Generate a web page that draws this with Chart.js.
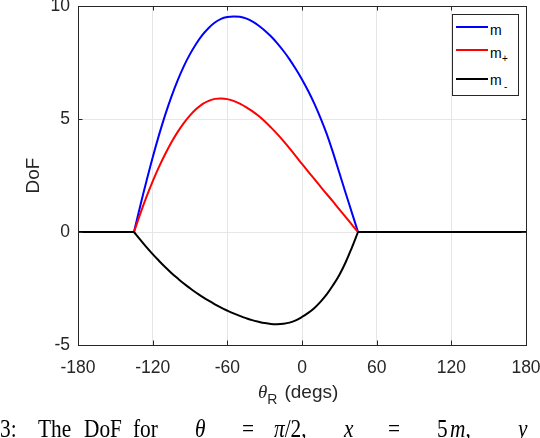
<!DOCTYPE html>
<html>
<head>
<meta charset="utf-8">
<script src="https://cdn.jsdelivr.net/npm/chart.js@4"></script>
<style>
  html, body { margin: 0; padding: 0; background: #fff; }
  #wrap { position: relative; width: 540px; height: 438px; overflow: hidden; }
  #chart { position: absolute; left: 0; top: 0; }
  #legend {
    position: absolute; left: 452px; top: 14px; width: 67px; height: 82px;
    box-sizing: border-box; border: 1px solid #262626; background: #fff;
    font-family: "Liberation Sans", Arial, sans-serif; color: #000;
  }
  #legend .ln { position: absolute; left: 3px; width: 32px; height: 2px; }
  #legend .m { position: absolute; left: 37px; font-size: 14px; line-height: 14px; color: #000; }
  #legend .s { position: absolute; font-size: 10px; line-height: 10px; color: #000; }
  #xtitle {
    position: absolute; top: 382px; left: 258px; white-space: nowrap;
    font-family: "Liberation Sans", Arial, sans-serif; font-size: 19px; line-height: 19px; color: #262626;
  }
  #xtitle i { font-family: "Liberation Serif", serif; }
  #xtitle sub { font-size: 14px; vertical-align: -6px; margin-right: 7px; }
  #caption {
    position: absolute; top: 416px; left: 0; width: 540px; height: 30px;
    font-family: "Liberation Serif", "Times New Roman", serif; font-size: 26px; line-height: 26px; color: #000;
  }
  #caption span { position: absolute; top: 0; white-space: nowrap; transform: scaleX(0.82); transform-origin: 0 0; }
</style>
</head>
<body>
<div id="wrap">
  <canvas id="chart" width="540" height="438"></canvas>
  <div id="legend">
    <div class="ln" style="top:10.7px;background:#0000ff"></div>
    <div class="m" style="top:7.5px">m</div>
    <div class="ln" style="top:34px;background:#ff0000"></div>
    <div class="m" style="top:31px">m</div>
    <div class="s" style="left:49px;top:38.5px">+</div>
    <div class="ln" style="top:62.7px;background:#000000"></div>
    <div class="m" style="top:58px">m</div>
    <div class="s" style="left:51px;top:66.5px">-</div>
  </div>
  <div id="xtitle"><i>θ</i><sub>R</sub>(degs)</div>
  <div id="caption">
    <span style="left:0px">3:</span>
    <span style="left:38px">The</span>
    <span style="left:84px">DoF</span>
    <span style="left:133px">for</span>
    <span style="left:195px"><i>θ</i></span>
    <span style="left:242px">=</span>
    <span style="left:274px"><i>π</i>/2,</span>
    <span style="left:344px"><i>x</i></span>
    <span style="left:388px">=</span>
    <span style="left:437px">5</span>
    <span style="left:450px"><i>m</i>,</span>
    <span style="left:518px"><i>y</i></span>
  </div>
</div>
<script>
// angle theta_R in degrees, over the range where the DoF curves are non-zero
const thetaDeg = [-135, -130, -125, -120, -115, -110, -105, -100, -95, -90, -85, -80,
  -75, -70, -65, -60, -55, -50, -45, -40, -35, -30, -25, -20, -15, -10, -5, 0,
  5, 10, 15, 20, 25, 30, 35, 40, 45];

const mTotal = [0, 1.15, 2.25, 3.3, 4.275, 5.17, 5.98, 6.7, 7.33, 7.87, 8.33, 8.72,
  9.03, 9.27, 9.43, 9.51, 9.54, 9.52, 9.45, 9.32, 9.14, 8.92, 8.66, 8.36, 8.02, 7.64, 7.21, 6.75,
  6.24, 5.67, 5.03, 4.32, 3.5, 2.62, 1.74, 0.87, 0];

const mPlus = [0, 0.8, 1.55, 2.24, 2.87, 3.44, 3.96, 4.42, 4.82, 5.16, 5.44, 5.66,
  5.8, 5.89, 5.91, 5.88, 5.8, 5.68, 5.53, 5.35, 5.14, 4.9, 4.63, 4.34, 4.03, 3.7, 3.36, 3.01,
  2.67, 2.34, 2.0, 1.67, 1.34, 1.0, 0.67, 0.33, 0];

const mMinus = [0, -0.34, -0.67, -0.98, -1.27, -1.55, -1.81, -2.05, -2.28, -2.49, -2.69, -2.87,
  -3.04, -3.2, -3.35, -3.48, -3.6, -3.71, -3.81, -3.9, -3.97, -4.03, -4.07, -4.08, -4.06, -4.01, -3.91, -3.76,
  -3.58, -3.36, -3.08, -2.75, -2.35, -1.9, -1.35, -0.7, 0];

// outside (-135, 45) all three curves sit at zero
const zeroTheta = [-180, -135, null, 45, 180];
const zeroVal = [0, 0, null, 0, 0];

const xTicks = [-180, -120, -60, 0, 60, 120, 180];
const yTicks = [-5, 0, 5, 10];

const axisColor = '#262626';
const gridColor = '#e6e6e6';

function pts(xs, ys) {
    return xs.map((x, i) => ({x: x, y: ys[i]}));
}

// MATLAB style box with inward ticks
const boxPlugin = {
    id: 'box',
    afterDatasetsDraw(chart) {
        const {ctx, chartArea: a, scales} = chart;
        ctx.save();
        ctx.strokeStyle = axisColor;
        ctx.lineWidth = 1;
        ctx.beginPath();
        xTicks.forEach(v => {
            const px = Math.round(scales.x.getPixelForValue(v)) + 0.5;
            ctx.moveTo(px, a.bottom); ctx.lineTo(px, a.bottom - 4.5);
            ctx.moveTo(px, a.top); ctx.lineTo(px, a.top + 4.5);
        });
        yTicks.forEach(v => {
            const py = Math.round(scales.y.getPixelForValue(v)) + 0.5;
            ctx.moveTo(a.left, py); ctx.lineTo(a.left + 4.5, py);
            ctx.moveTo(a.right, py); ctx.lineTo(a.right - 4.5, py);
        });
        ctx.stroke();
        ctx.strokeRect(Math.round(a.left) + 0.5, Math.round(a.top) + 0.5,
            Math.round(a.right - a.left), Math.round(a.bottom - a.top));
        ctx.restore();
    }
};

function noPad(s) {
    s.paddingLeft = 0; s.paddingRight = 0; s.paddingTop = 0; s.paddingBottom = 0;
}

const chart_config = {
    type: 'line',
    data: {
        datasets: [{
            label: 'm',
            data: pts(thetaDeg, mTotal),
            borderColor: '#0000ff',
            order: 4
        }, {
            label: 'm+',
            data: pts(thetaDeg, mPlus),
            borderColor: '#ff0000',
            order: 3
        }, {
            label: 'm-',
            data: pts(thetaDeg, mMinus),
            borderColor: '#000000',
            order: 2
        }, {
            label: 'zero',
            data: pts(zeroTheta, zeroVal),
            borderColor: '#000000',
            spanGaps: false,
            tension: 0,
            order: 1
        }]
    },
    options: {
        responsive: false,
        animation: false,
        layout: {
            padding: {left: 0, right: 14, top: 6, bottom: 0}
        },
        elements: {
            point: {radius: 0},
            line: {borderWidth: 2, tension: 0.4, fill: false}
        },
        scales: {
            x: {
                type: 'linear',
                min: -180,
                max: 180,
                afterBuildTicks: s => { s.ticks = xTicks.map(v => ({value: v})); },
                afterFit: s => { s.height = 93; noPad(s); },
                ticks: {
                    color: axisColor,
                    padding: 13,
                    maxRotation: 0,
                    font: {family: 'Liberation Sans', size: 17.5}
                },
                grid: {color: gridColor, drawTicks: false},
                border: {color: axisColor}
            },
            y: {
                type: 'linear',
                min: -5,
                max: 10,
                afterBuildTicks: s => { s.ticks = yTicks.map(v => ({value: v})); },
                afterFit: s => { s.width = 78; noPad(s); },
                ticks: {
                    color: axisColor,
                    padding: 8,
                    font: {family: 'Liberation Sans', size: 17.5}
                },
                grid: {color: gridColor, drawTicks: false},
                border: {color: axisColor},
                title: {
                    display: true,
                    text: 'DoF',
                    color: axisColor,
                    padding: {top: 22, bottom: 0},
                    font: {family: 'Liberation Sans', size: 19}
                }
            }
        },
        plugins: {
            legend: {display: false},
            tooltip: {enabled: false}
        }
    },
    plugins: [boxPlugin]
};

var chart = new Chart(document.getElementById('chart'), chart_config);
</script>
</body>
</html>
